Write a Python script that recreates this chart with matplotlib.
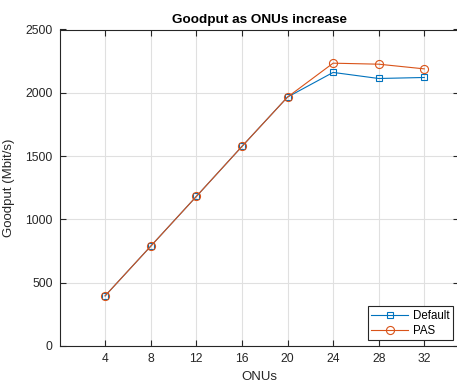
import matplotlib
matplotlib.use("Agg")
import matplotlib.pyplot as plt

plt.rcParams['font.family'] = ['Liberation Sans', 'DejaVu Sans']

# data
onus = [4, 8, 12, 16, 20, 24, 28, 32]
goodput_default = [396, 788, 1181, 1576, 1966, 2161, 2113, 2121]
goodput_pas = [396, 788, 1181, 1576, 1966, 2234, 2226, 2189]

blue = (0, 0.447, 0.741)
orange = (0.85, 0.325, 0.098)
dark = (0.15, 0.15, 0.15)

fig = plt.figure(figsize=(4.57, 3.83), dpi=100)
# axes run slightly past the right edge, as in the reference
ax = fig.add_axes([59.5/457, 37/383, (458.5-59.5)/457, (346-29.5)/383])

ax.plot(onus, goodput_default, '-s', color=blue, lw=0.8, ms=4.3,
        mfc='none', mew=0.8, label='Default')
ax.plot(onus, goodput_pas, '-o', color=orange, lw=0.8, ms=5.8,
        mfc='none', mew=0.8, label='PAS')

ax.set_xlim(0, 35)
ax.set_ylim(0, 2500)
ax.set_xticks(onus)
ax.set_yticks([0, 500, 1000, 1500, 2000, 2500])

ax.grid(True, color=(0.88, 0.88, 0.88), lw=0.8)
ax.set_axisbelow(True)
ax.tick_params(direction='in', length=4, width=0.8, colors=dark,
               labelsize=8.7, top=True, right=True, pad=5)
for s in ax.spines.values():
    s.set_color(dark)
    s.set_linewidth(0.8)

ax.set_xlabel('ONUs', fontsize=9.5, color=dark, labelpad=4)
ax.set_ylabel('Goodput (Mbit/s)', fontsize=9.5, color=dark, labelpad=7)
ax.set_title('Goodput as ONUs increase', fontsize=9.7, fontweight='bold', pad=5)

leg = ax.legend(loc='lower right', bbox_to_anchor=(453/457, 43/383),
                bbox_transform=fig.transFigure, borderaxespad=0,
                fontsize=8.3, fancybox=False, framealpha=1,
                edgecolor=dark, handlelength=3.2, handletextpad=0.4,
                borderpad=0.3, labelspacing=0.25)
leg.get_frame().set_linewidth(0.8)

fig.savefig('out.png', dpi=100)
